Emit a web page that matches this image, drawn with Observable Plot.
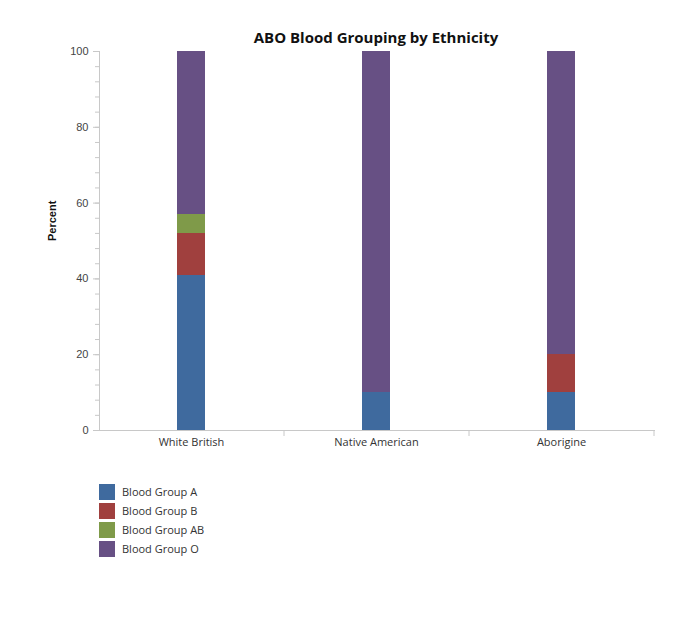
<!DOCTYPE html>
<html>
<head>
<meta charset="utf-8">
<script src="https://cdn.jsdelivr.net/npm/d3@7"></script>
<script src="https://cdn.jsdelivr.net/npm/@observablehq/plot@0.6"></script>
<style>
  body { margin: 0; background: #fff; }
  #wrap { position: relative; width: 700px; height: 636px; background: #fff; }
  #title { position: absolute; top: 27px; left: 0; width: 752px; text-align: center;
           font: bold 15px "Open Sans", sans-serif; color: #111; }
  #chart { position: absolute; top: 0; left: 0; }
  #legend { position: absolute; left: 99px; top: 482px; font: 11px "Open Sans", sans-serif; color: #333; }
  .item { display: flex; align-items: center; height: 19px; }
  .sw { width: 16px; height: 16px; margin-right: 7px; }
</style>
</head>
<body>
<div id="wrap">
  <div id="title">ABO Blood Grouping by Ethnicity</div>
  <div id="chart"></div>
  <div id="legend"></div>
</div>
<script>
const ethnicities = ["White British", "Native American", "Aborigine"];
const groups = ["Blood Group A", "Blood Group B", "Blood Group AB", "Blood Group O"];
const colors = ["#3f6a9e", "#a0403e", "#7f9a49", "#675084"];
const groupA  = [41, 10, 10];
const groupB  = [11, 0, 10];
const groupAB = [5, 0, 0];
const groupO  = [43, 90, 80];
const yTicks = [0, 20, 40, 60, 80, 100];
const minorTicks = [0, 4, 8, 12, 16, 20, 24, 28, 32, 36, 40, 44, 48, 52, 56, 60, 64, 68, 72, 76, 80, 84, 88, 92, 96, 100];

const seriesVals = [groupA, groupB, groupAB, groupO];
const data = [];
groups.forEach((g, gi) => ethnicities.forEach((e, ei) => data.push({ethnicity: e, group: g, value: seriesVals[gi][ei]})));

const plot = Plot.plot({
  width: 700,
  height: 460,
  marginTop: 51,
  marginBottom: 30,
  marginLeft: 99,
  marginRight: 46,
  style: {fontFamily: "'Open Sans', sans-serif", fontSize: "11px", color: "#444", background: "transparent"},
  x: {domain: ethnicities, paddingInner: 0.848, paddingOuter: 0.424, align: 0.5, label: null},
  y: {domain: [0, 100], label: null},
  color: {domain: groups, range: colors},
  marks: [
    Plot.barY(data, Plot.stackY({x: "ethnicity", y: "value", fill: "group", order: groups, shapeRendering: "crispEdges"})),
    Plot.axisY(minorTicks, {tickSize: 4, text: null, stroke: "#c8c8c8"}),
    Plot.axisY(yTicks, {tickSize: 6, tickPadding: 5, stroke: "#c8c8c8", fill: "#444", fontFamily: "'Liberation Sans', Arial, sans-serif", fontSize: 11}),
    Plot.axisX({tickSize: 0, tickPadding: 8, fill: "#333", fontSize: 11}),
    Plot.ruleX(ethnicities, {x: d => d, dx: 92.5, y1: 0, y2: 0, insetBottom: -6, stroke: "#c8c8c8"}),
    Plot.frame({anchor: "left", stroke: "#c8c8c8"}),
    Plot.frame({anchor: "bottom", stroke: "#c8c8c8"}),
    Plot.text(["Percent"], {frameAnchor: "left", dx: -47, rotate: -90, fontWeight: "bold", fontSize: 11, fill: "#111", fontFamily: "'Liberation Sans', Arial, sans-serif"})
  ]
});
document.getElementById("chart").appendChild(plot);

const legend = document.getElementById("legend");
groups.forEach((g, i) => {
  const it = document.createElement("div");
  it.className = "item";
  it.innerHTML = `<div class="sw" style="background:${colors[i]}"></div><span>${g}</span>`;
  legend.appendChild(it);
});
</script>
</body>
</html>
